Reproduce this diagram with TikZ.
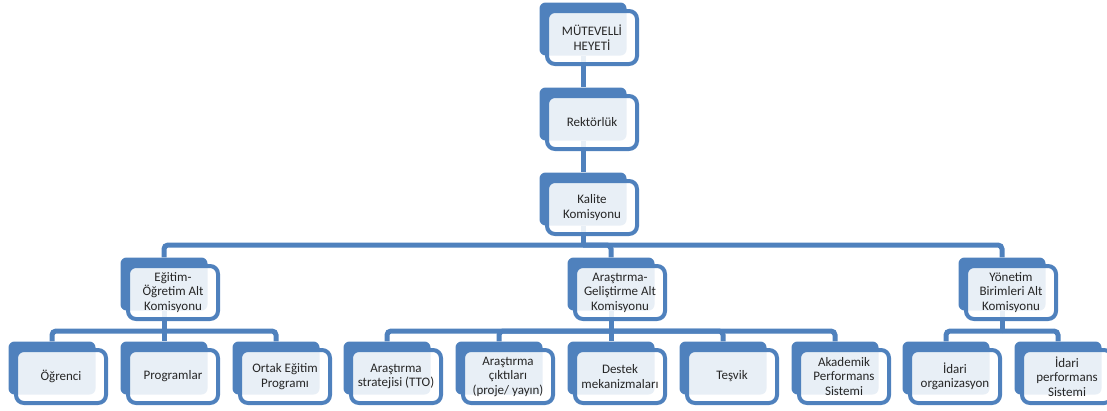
\documentclass[tikz,border=0pt]{standalone}
\usepackage{fontspec}
\setmainfont{Carlito}
\usepackage{xcolor}
\usetikzlibrary{backgrounds}
\definecolor{boxblue}{HTML}{4f81bd}
\definecolor{boxtext}{HTML}{262626}

\tikzset{
    backbox/.style = {fill = boxblue, rectangle, rounded corners = 6pt, minimum width = 87pt, minimum height = 53pt},
    frontbox/.style = {fill = white, fill opacity = 0.875, text opacity = 1, draw = boxblue, line width = 4pt, rectangle, rounded corners = 8pt, minimum width = 90pt, minimum height = 53pt, inner sep = 1pt, align = center, text = boxtext, font = \fontsize{13}{14.5}\selectfont},
    link/.style = {draw = boxblue, line width = 5pt, rounded corners = 4pt}
}

\begin{document}
\begin{tikzpicture}

        \useasboundingbox (0pt, 0pt) rectangle (1107pt, -410pt);

        % Top
        \node [backbox] (mutevelli-b) at (583pt, -29pt) {};
        \node [frontbox] (mutevelli) at (592pt, -37.5pt) {MÜTEVELLİ\\HEYETİ};
        \node [backbox] (rektorluk-b) at (583pt, -114pt) {};
        \node [frontbox] (rektorluk) at (592pt, -122.5pt) {Rektörlük};
        \node [backbox] (kalite-b) at (583pt, -199pt) {};
        \node [frontbox] (kalite) at (592pt, -207.5pt) {Kalite\\Komisyonu};

        % Alt komisyonlar
        \node [backbox] (egitim-b) at (164pt, -284pt) {};
        \node [frontbox] (egitim) at (173pt, -292.5pt) {Eğitim-\\Öğretim Alt\\Komisyonu};
        \node [backbox] (arge-b) at (611pt, -284pt) {};
        \node [frontbox] (arge) at (620pt, -292.5pt) {Araştırma-\\Geliştirme Alt\\Komisyonu};
        \node [backbox] (yonetim-b) at (1002pt, -284pt) {};
        \node [frontbox] (yonetim) at (1011pt, -292.5pt) {Yönetim\\Birimleri Alt\\Komisyonu};

        % Bottom row
        \node [backbox] (ogrenci-b) at (52pt, -368pt) {};
        \node [frontbox] (ogrenci) at (61pt, -376.5pt) {Öğrenci};
        \node [backbox] (programlar-b) at (164pt, -368pt) {};
        \node [frontbox] (programlar) at (173pt, -376.5pt) {Programlar};
        \node [backbox] (ortak-b) at (276pt, -368pt) {};
        \node [frontbox] (ortak) at (285pt, -376.5pt) {Ortak Eğitim\\Programı};
        \node [backbox] (strateji-b) at (387pt, -368pt) {};
        \node [frontbox] (strateji) at (396pt, -376.5pt) {Araştırma\\stratejisi (TTO)};
        \node [backbox] (cikti-b) at (499pt, -368pt) {};
        \node [frontbox] (cikti) at (508pt, -376.5pt) {Araştırma\\çıktıları\\(proje/ yayın)};
        \node [backbox] (destek-b) at (611pt, -368pt) {};
        \node [frontbox] (destek) at (620pt, -376.5pt) {Destek\\mekanizmaları};
        \node [backbox] (tesvik-b) at (723pt, -368pt) {};
        \node [frontbox] (tesvik) at (732pt, -376.5pt) {Teşvik};
        \node [backbox] (akademik-b) at (835pt, -368pt) {};
        \node [frontbox] (akademik) at (844pt, -376.5pt) {Akademik\\Performans\\Sistemi};
        \node [backbox] (idariorg-b) at (946pt, -368pt) {};
        \node [frontbox] (idariorg) at (955pt, -376.5pt) {İdari\\organizasyon};
        \node [backbox] (idariperf-b) at (1058pt, -368pt) {};
        \node [frontbox] (idariperf) at (1067pt, -376.5pt) {İdari\\performans\\Sistemi};

        \coordinate (bar1) at (0pt, -245pt);
        \coordinate (bar2) at (0pt, -331pt);

        % Connectors (behind the boxes)
        \begin{pgfonlayer}{background}
        \draw [link] (mutevelli-b) -- (rektorluk-b);
        \draw [link] (rektorluk-b) -- (kalite-b);

        \draw [link] (kalite-b) -- (kalite-b |- bar1);
        \draw [link] (kalite-b |- bar1) -| (egitim-b);
        \draw [link] (kalite-b |- bar1) -| (arge-b);
        \draw [link] (kalite-b |- bar1) -| (yonetim-b);

        \draw [link] (egitim-b) -- (egitim-b |- bar2);
        \draw [link] (egitim-b |- bar2) -| (ogrenci-b);
        \draw [link] (egitim-b |- bar2) -| (programlar-b);
        \draw [link] (egitim-b |- bar2) -| (ortak-b);

        \draw [link] (arge-b) -- (arge-b |- bar2);
        \draw [link] (arge-b |- bar2) -| (strateji-b);
        \draw [link] (arge-b |- bar2) -| (cikti-b);
        \draw [link] (arge-b |- bar2) -| (destek-b);
        \draw [link] (arge-b |- bar2) -| (tesvik-b);
        \draw [link] (arge-b |- bar2) -| (akademik-b);

        \draw [link] (yonetim-b) -- (yonetim-b |- bar2);
        \draw [link] (yonetim-b |- bar2) -| (idariorg-b);
        \draw [link] (yonetim-b |- bar2) -| (idariperf-b);
        \end{pgfonlayer}

\end{tikzpicture}
\end{document}
